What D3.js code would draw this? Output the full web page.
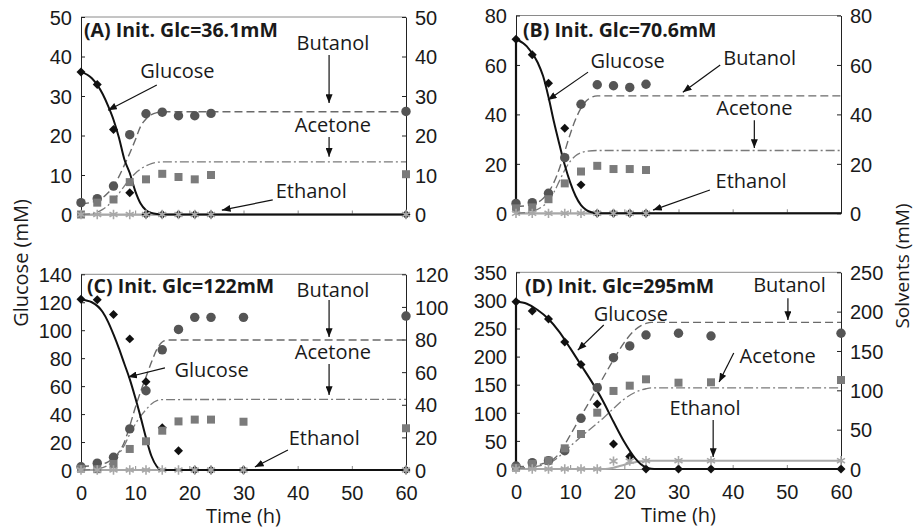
<!DOCTYPE html>
<html lang="en">
<head>
<meta charset="UTF-8">
<title>Glucose and solvents vs time</title>
<style>
  body { margin: 0; background: #fff; }
  svg { font-family: "Open Sans", sans-serif; }
  .tick text { font-size: 20px; fill: #1a1a1a; }
</style>
</head>
<body>
<script src="https://cdn.jsdelivr.net/npm/d3@7"></script>
<script>
// sampling times (h)
const tA = [0, 3, 6, 9, 12, 15, 18, 21, 24, 60];
const tB = [0, 3, 6, 9, 12, 15, 18, 21, 24];
const tC = [0, 3, 6, 9, 12, 15, 18, 21, 24, 30, 60];
const tD = [0, 3, 6, 9, 12, 15, 18, 21, 24, 30, 36, 60];

// measured values (mM)
const glcA = [36.1, 32.9, 21.5, 5.5, 0, 0, 0, 0, 0, 0];
const butA = [3.0, 4.0, 7.2, 20.2, 25.5, 25.9, 25.0, 25.0, 25.6, 26.1];
const aceA = [0, 3.0, 3.8, 8.2, 8.9, 10.3, 9.5, 8.9, 10.0, 10.2];
const ethA = [0, 0, 0, 0, 0, 0, 0, 0, 0, 0];

const glcB = [70.4, 64.1, 52.6, 34.4, 11.5, 0, 0, 0, 0];
const butB = [4.0, 4.3, 8.1, 22.5, 44.1, 52.0, 51.6, 50.9, 52.2];
const aceB = [2.0, 2.4, 5.7, 12.1, 16.9, 19.2, 17.9, 17.9, 17.5];
const ethB = [0, 0, 0, 0, 0, 0, 0, 0, 0];

const glcC = [122.2, 121.8, 111.3, 93.8, 63.1, 30.2, 13.8, 0, 0, 0, 0];
const butC = [2.0, 4.2, 7.8, 25.2, 48.6, 73.7, 86.2, 93.6, 93.6, 93.6, 94.4];
const aceC = [0.8, 0.5, 3.7, 12.9, 17.6, 24.1, 29.8, 30.9, 30.9, 29.6, 25.6];
const ethC = [0, 0, 0, 0, 0, 0, 0, 0, 0, 0, 0];

const glcD = [297.5, 281, 267, 226, 186, 115.7, 44.5, 22.2, 0, 0, 0, 0];
const butD = [3.8, 8.0, 10.6, 23.3, 64.4, 103.4, 141.5, 156.4, 170.3, 172.5, 169.0, 172.5];
const aceD = [1.7, 6.4, 10.6, 26.3, 44.5, 71.6, 99.2, 105.9, 114.0, 109.7, 110.2, 113.1];
const ethD = [0, 0, 0, 0, 0, 0, 10, 10, 10.5, 10.5, 10.5, 10.5];

// model curves, [t, value]
const glcFitA = [[0,36.1],[2,34.5],[4,30.5],[5,27.5],[6,24],[7,19.5],[8,14],[9,10.5],[10,6],[11,2.8],[12,1.1],[13,0.4],[14,0.1],[15,0],[60,0]];
const butFitA = [[0,2.7],[3,3.5],[5,5.5],[6,7.2],[7,9.6],[8,12.5],[9,15.5],[10,18.8],[11,22.3],[12,24.2],[13,25.3],[14,25.8],[15,26],[60,26]];
const aceFitA = [[0,0],[2,0.2],[4,1.3],[5,2.3],[6,3.7],[7,5.3],[8,7.2],[9,8.9],[10,10.4],[11,11.5],[12,12.3],[13,12.9],[14,13.2],[15,13.3],[60,13.3]];
const ethFitA = [[0,0],[60,0]];

const glcFitB = [[0,70.5],[2,67.5],[4,61],[5,55.5],[6,47],[7,37],[8,28],[9,19.5],[10,12.5],[11,7],[12,3.3],[13,1.3],[14,0.4],[15,0],[60,0]];
const butFitB = [[0,2.7],[3,3.5],[5,6],[6,8.5],[7,12.5],[8,18],[9,25],[10,32],[11,38],[12,42.5],[13,45.5],[14,47],[15,47.5],[60,47.5]];
const aceFitB = [[0,0],[3,0.8],[5,3],[6,5],[7,8.5],[8,13],[9,17.5],[10,21],[11,23.3],[12,24.5],[13,25.1],[15,25.4],[60,25.4]];
const ethFitB = [[0,0],[60,0]];

const glcFitC = [[0,122],[2,120],[4,113],[5,106],[6,97],[7,87],[8,76],[9,65],[10,52],[11,38],[12,23],[13,10],[14,2.5],[15,0],[60,0]];
const butFitC = [[0,2.2],[3,3],[5,5],[6,7.5],[7,11],[8,17],[9,27],[10,38],[11,48],[12,57],[13,66],[14,74],[15,78.5],[16,79.7],[60,79.7]];
const aceFitC = [[0,0],[3,0.8],[5,3],[6,6],[7,10],[8,15],[9,22],[10,28],[11,33],[12,37],[13,40.5],[14,42.5],[15,43.2],[60,43.3]];
const ethFitC = [[0,0],[60,0]];

const glcFitD = [[0,298],[2,294],[4,283],[6,267],[8,244],[10,215],[12,185],[14,155],[16,122],[18,84],[20,48],[22,19],[23,9],[24,3],[25,0.5],[26,0],[60,0]];
const butFitD = [[0,3],[3,4],[5,7],[6,9],[7,13],[8,20],[9,31],[10,43],[12,67],[14,91],[16,115],[18,139],[20,161],[22,177],[23,182],[24,185],[25,186.4],[60,186.4]];
const aceFitD = [[0,1],[3,2.5],[5,5],[6,7],[7,11],[8,16],[9,23],[10,29],[12,41],[14,52.5],[16,64],[18,77],[20,89],[22,97.5],[24,102],[25,103],[60,103]];
const ethFitD = [[0,0],[16,0],[17,0.3],[18,1.5],[19,3.5],[20,5.5],[21,7.3],[22,8.7],[23,9.7],[24,10.3],[25,10.5],[60,10.5]];

// labels with arrows: [text, t, value, arrow t0, v0, arrow t1, v1] in solvent-axis units
const notesA = [["Glucose",17.8,34.6,14,32.8,5,26.4],["Butanol",46.5,41.6,45.8,40.4,45.8,28.2],["Acetone",46.5,20.9,45.8,19.6,45.8,14.6],["Ethanol",42.5,4.2,35.4,3.7,26,1.1]];
const notesB = [["Glucose",20.6,58.7,13.3,57.1,5.9,45.8],["Butanol",45,60,37.7,60,30.8,49],["Acetone",44,39.7,44,37.6,44,26.4],["Ethanol",43.4,10.2,35.8,9.4,25.3,1.3]];
const notesC = [["Butanol",46.5,106,45.8,104.2,45.8,81.5],["Acetone",46.5,68,45.8,65,45.8,46],["Glucose",24.1,57,15.5,62.6,8.7,57],["Ethanol",44.9,15.3,38.2,12.3,32.1,1.8]];
const notesD = [["Glucose",21.2,188.5,16.2,183,11.4,151],["Butanol",50.5,225,50.2,217,50.2,189.4],["Acetone",48.3,134.7,40.2,147.4,37.5,110.6],["Ethanol",34.9,68.6,36.4,62.3,36.4,15.3]];

const panels = [
  {title: "(A) Init. Glc=36.1mM", t: tA, glc: glcA, but: butA, ace: aceA, eth: ethA,
   fits: [glcFitA, butFitA, aceFitA, ethFitA], notes: notesA, left: 50, lstep: 10, right: 50, rstep: 10,
   box: [81, 406, 17, 214.5], tdx: 3, tdy: 20, xlab: false, fromZero: false},
  {title: "(B) Init. Glc=70.6mM", t: tB, glc: glcB, but: butB, ace: aceB, eth: ethB,
   fits: [glcFitB, butFitB, aceFitB, ethFitB], notes: notesB, left: 80, lstep: 20, right: 80, rstep: 20,
   box: [516, 841, 15.5, 213.3], tdx: 7, tdy: 21.5, xlab: false, fromZero: true},
  {title: "(C) Init. Glc=122mM", t: tC, glc: glcC, but: butC, ace: aceC, eth: ethC,
   fits: [glcFitC, butFitC, aceFitC, ethFitC], notes: notesC, left: 140, lstep: 20, right: 120, rstep: 20,
   box: [81, 406, 274.3, 470], tdx: 6, tdy: 18.5, xlab: true, fromZero: false},
  {title: "(D) Init. Glc=295mM", t: tD, glc: glcD, but: butD, ace: aceD, eth: ethD,
   fits: [glcFitD, butFitD, aceFitD, ethFitD], notes: notesD, left: 350, lstep: 50, right: 250, rstep: 50,
   box: [516, 841, 272.3, 469], tdx: 9, tdy: 20.5, xlab: true, fromZero: true}
];

const width = 915, height = 531;
const svg = d3.select("body").append("svg")
    .attr("width", width).attr("height", height)
    .attr("viewBox", [0, 0, width, height]);

svg.append("defs").append("marker")
    .attr("id", "arrow")
    .attr("viewBox", "0 0 10 8")
    .attr("refX", 10).attr("refY", 4)
    .attr("markerWidth", 9).attr("markerHeight", 7)
    .attr("markerUnits", "userSpaceOnUse")
    .attr("orient", "auto")
  .append("path")
    .attr("d", "M0,0L10,4L0,8Z")
    .attr("fill", "#111");

const sym = {
  glc: d3.symbol(d3.symbolSquare, 40),
  but: d3.symbol(d3.symbolCircle, 70),
  ace: d3.symbol(d3.symbolSquare, 64),
  eth: d3.symbol(d3.symbolAsterisk, 60)
};

panels.forEach(p => {
  const [x0, x1, y0, y1] = p.box;
  const x = d3.scaleLinear().domain([0, 60]).range([x0, x1]);
  const yl = d3.scaleLinear().domain([0, p.left]).range([y1, y0]);
  const yr = d3.scaleLinear().domain([0, p.right]).range([y1, y0]);
  const g = svg.append("g");

  // top border
  g.append("line")
      .attr("x1", x0).attr("x2", x1).attr("y1", y0).attr("y2", y0)
      .attr("stroke", "#8a8a8a");

  g.append("g")
      .attr("transform", `translate(0,${y1})`)
      .call(d3.axisBottom(x).tickValues(d3.range(0, 61, 10)).tickSize(-4).tickSizeOuter(0).tickPadding(16)
        .tickFormat(p.xlab ? d3.format("d") : ""))
      .call(a => a.selectAll("line, path").attr("stroke", "#8a8a8a"));

  g.append("g")
      .attr("transform", `translate(${x0},0)`)
      .call(d3.axisLeft(yl).tickValues(d3.range(0, p.left + 1, p.lstep)).tickSize(-4).tickSizeOuter(0).tickPadding(9))
      .call(a => a.selectAll("line, path").attr("stroke", "#222"))
      .call(a => a.selectAll("text").attr("dy", "0.36em"));

  g.append("g")
      .attr("transform", `translate(${x1},0)`)
      .call(d3.axisRight(yr).tickValues(d3.range(0, p.right + 1, p.rstep)).tickSize(-4).tickSizeOuter(0).tickPadding(9))
      .call(a => a.selectAll("line, path").attr("stroke", "#222"))
      .call(a => a.selectAll("text").attr("dy", "0.36em"));

  // model curves
  const lineL = d3.line().x(d => x(d[0])).y(d => yl(d[1])).curve(d3.curveMonotoneX);
  const lineR = d3.line().x(d => x(d[0])).y(d => yr(d[1])).curve(d3.curveMonotoneX);
  const [gf, bf, af, ef] = p.fits;

  g.append("path").attr("d", lineR(ef)).attr("fill", "none")
      .attr("stroke", "#a8a8a8").attr("stroke-width", 2);
  g.append("path").attr("d", lineR(af)).attr("fill", "none")
      .attr("stroke", "#7a7a7a").attr("stroke-width", 1.3).attr("stroke-dasharray", "9,3,2,3");
  g.append("path").attr("d", lineR(bf)).attr("fill", "none")
      .attr("stroke", "#6a6a6a").attr("stroke-width", 1.4).attr("stroke-dasharray", "8,4");
  if (p.fromZero) {
    g.append("path").attr("d", d3.line().x(d => x(d[0])).y(d => yl(d[1]))([[0, 0], gf[0]]))
        .attr("stroke", "#111").attr("stroke-width", 2.2);
  }
  g.append("path").attr("d", lineL(gf)).attr("fill", "none")
      .attr("stroke", "#111").attr("stroke-width", 2);

  // measured points
  g.append("g").selectAll("path").data(p.t.map((t, i) => [t, p.glc[i]])).join("path")
      .attr("transform", d => `translate(${x(d[0])},${yl(d[1])}) rotate(45)`)
      .attr("d", sym.glc).attr("fill", "#111");
  g.append("g").selectAll("path").data(p.t.map((t, i) => [t, p.but[i]])).join("path")
      .attr("transform", d => `translate(${x(d[0])},${yr(d[1])})`)
      .attr("d", sym.but).attr("fill", "#555");
  g.append("g").selectAll("path").data(p.t.map((t, i) => [t, p.ace[i]])).join("path")
      .attr("transform", d => `translate(${x(d[0])},${yr(d[1])})`)
      .attr("d", sym.ace).attr("fill", "#7b7b7b");
  g.append("g").selectAll("path").data(p.t.map((t, i) => [t, p.eth[i]])).join("path")
      .attr("transform", d => `translate(${x(d[0])},${yr(d[1])})`)
      .attr("d", sym.eth).attr("fill", "none").attr("stroke", "#a8a8a8").attr("stroke-width", 1.6);

  // panel title
  g.append("text")
      .attr("x", x0 + p.tdx).attr("y", y0 + p.tdy)
      .attr("font-size", 19.5).attr("font-weight", "bold").attr("fill", "#1a1a1a")
      .text(p.title);

  // labels and arrows
  p.notes.forEach(([label, tx, ty, ax0, ay0, ax1, ay1]) => {
    g.append("text")
        .attr("x", x(tx)).attr("y", yr(ty))
        .attr("text-anchor", "middle").attr("font-size", 20).attr("fill", "#1a1a1a")
        .text(label);
    g.append("line")
        .attr("x1", x(ax0)).attr("y1", yr(ay0)).attr("x2", x(ax1)).attr("y2", yr(ay1))
        .attr("stroke", "#111").attr("stroke-width", 1.2)
        .attr("marker-end", "url(#arrow)");
  });

  if (p.xlab) {
    g.append("text")
        .attr("x", (x0 + x1) / 2).attr("y", y1 + 53)
        .attr("text-anchor", "middle").attr("font-size", 20).attr("fill", "#1a1a1a")
        .text("Time (h)");
  }
});

svg.append("text")
    .attr("transform", "translate(28,263) rotate(-90)")
    .attr("text-anchor", "middle").attr("font-size", 20).attr("fill", "#1a1a1a")
    .text("Glucose (mM)");

svg.append("text")
    .attr("transform", "translate(909,266) rotate(-90)")
    .attr("text-anchor", "middle").attr("font-size", 19).attr("fill", "#1a1a1a")
    .text("Solvents (mM)");
</script>
</body>
</html>
